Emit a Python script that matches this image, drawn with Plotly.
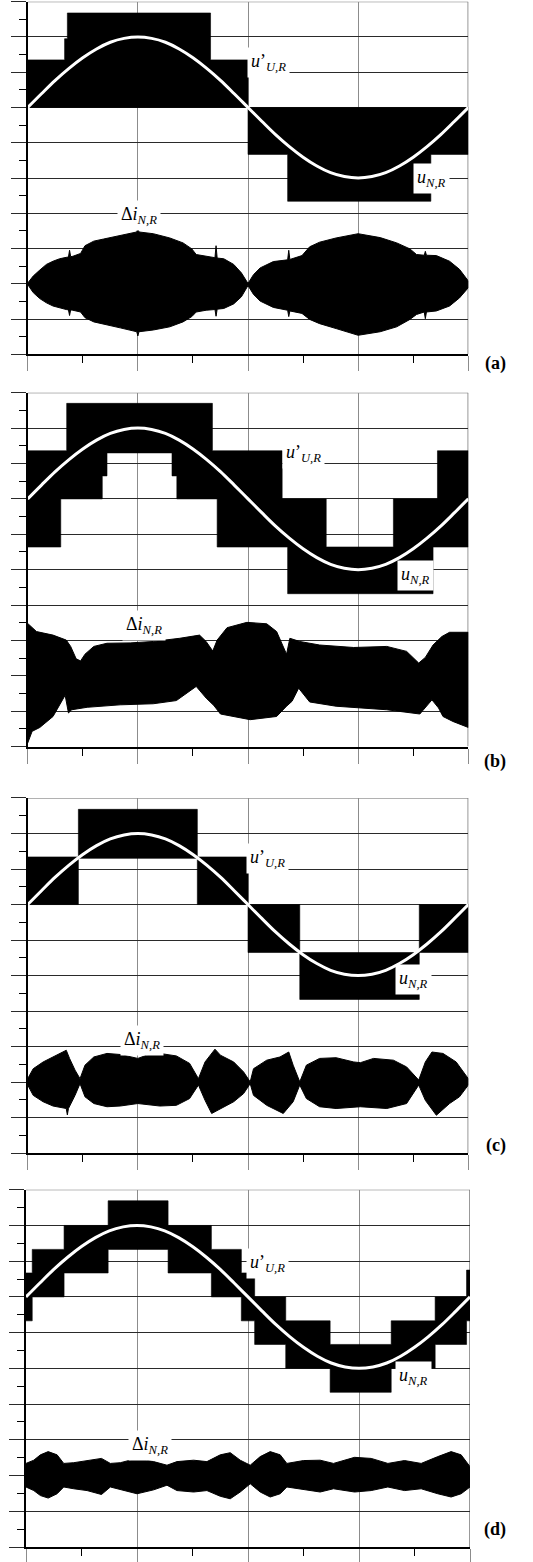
import plotly.graph_objects as go

FIG_W, FIG_H = 533, 1562

# ---------------- reference sine u'_U,R (same in all four panels) ----------------
sine_x = [0.0, 0.125, 0.25, 0.375, 0.5, 0.625, 0.75, 0.875, 1.0, 1.125, 1.25, 1.375, 1.5,
          1.625, 1.75, 1.875, 2.0, 2.125, 2.25, 2.375, 2.5, 2.625, 2.75, 2.875, 3.0,
          3.125, 3.25, 3.375, 3.5, 3.625, 3.75, 3.875, 4.0]
sine_y = [7.0, 7.39, 7.77, 8.11, 8.41, 8.66, 8.85, 8.96, 9.0, 8.96, 8.85, 8.66, 8.41,
          8.11, 7.77, 7.39, 7.0, 6.61, 6.23, 5.89, 5.59, 5.34, 5.15, 5.04, 5.0,
          5.04, 5.15, 5.34, 5.59, 5.89, 6.23, 6.61, 7.0]

# ---------------- PWM voltage u_N,R : switching bands (start, end, low, high) ----------------
a_x0 = [0.0, 0.335, 0.36, 1.66, 2.0, 2.36, 3.66]
a_x1 = [0.335, 0.36, 1.66, 2.0, 2.36, 3.66, 4.0]
a_lo = [7.0, 7.0, 7.0, 7.0, 5.67, 4.34, 5.67]
a_hi = [8.35, 8.95, 9.68, 8.35, 7.0, 7.0, 7.0]

b_x0 = [0.0, 0.30, 0.354, 0.677, 0.72, 1.31, 1.354, 1.677, 1.72, 2.31, 2.36, 2.71, 3.32, 3.68, 3.72]
b_x1 = [0.30, 0.354, 0.677, 0.72, 1.31, 1.354, 1.677, 1.72, 2.31, 2.36, 2.71, 3.32, 3.68, 3.72, 4.0]
b_lo = [5.64, 7.0, 7.0, 7.65, 8.30, 7.65, 7.0, 7.0, 5.64, 5.64, 4.32, 4.32, 4.32, 5.64, 5.64]
b_hi = [8.36, 8.36, 9.70, 9.70, 9.70, 9.70, 9.70, 8.36, 8.36, 7.0, 7.0, 5.64, 7.0, 7.0, 8.36]

c_x0 = [0.0, 0.46, 1.54, 2.0, 2.47, 3.555]
c_x1 = [0.46, 1.54, 2.0, 2.47, 3.555, 4.0]
c_lo = [7.0, 8.30, 7.0, 5.65, 4.33, 5.65]
c_hi = [8.34, 9.68, 8.34, 7.0, 5.65, 7.0]

d_x0 = [0.0, 0.056, 0.343, 0.74, 1.28, 1.67, 1.94, 2.06, 2.34, 2.74, 3.29, 3.686, 3.969]
d_x1 = [0.056, 0.343, 0.74, 1.28, 1.67, 1.94, 2.06, 2.34, 2.74, 3.29, 3.686, 3.969, 4.0]
d_lo = [6.33, 7.0, 7.67, 8.33, 7.67, 7.0, 6.33, 5.67, 5.0, 4.33, 5.0, 5.67, 6.33]
d_hi = [7.67, 8.33, 9.0, 9.69, 9.0, 8.33, 7.67, 7.0, 6.33, 5.67, 6.33, 7.0, 7.75]

# ---------------- ripple current delta i_N,R : upper / lower envelopes ----------------
ra_x = [0, 0.05, 0.11, 0.17, 0.23, 0.29, 0.35, 0.37, 0.38, 0.39, 0.41, 0.48, 0.52, 0.60, 0.69,
        0.84, 0.99, 1.0, 1.01, 1.14, 1.29, 1.41, 1.49, 1.53, 1.62, 1.70, 1.71, 1.72, 1.78, 1.87,
        1.94, 2.0, 2.05, 2.11, 2.23, 2.36, 2.37, 2.38, 2.49, 2.56, 2.65, 2.80, 3.0, 3.20, 3.35,
        3.47, 3.53, 3.60, 3.61, 3.62, 3.71, 3.83, 3.92, 4.0]
ra_up = [2.02, 2.22, 2.39, 2.55, 2.64, 2.71, 2.75, 2.76, 2.95, 2.77, 2.78, 2.86, 3.08, 3.21, 3.27,
         3.37, 3.47, 3.58, 3.47, 3.42, 3.30, 3.16, 2.99, 2.83, 2.78, 2.74, 3.08, 2.73, 2.71, 2.55,
         2.31, 2.01, 2.26, 2.45, 2.63, 2.68, 2.95, 2.69, 2.80, 3.05, 3.18, 3.30, 3.42, 3.31, 3.16,
         2.99, 2.83, 2.81, 2.92, 2.81, 2.80, 2.64, 2.41, 2.08]
ra_lo = [1.98, 1.75, 1.58, 1.46, 1.37, 1.32, 1.27, 1.26, 1.10, 1.26, 1.25, 1.20, 1.04, 0.92, 0.85,
         0.75, 0.64, 0.52, 0.64, 0.69, 0.78, 0.92, 1.07, 1.20, 1.25, 1.27, 1.08, 1.28, 1.30, 1.43,
         1.63, 1.95, 1.70, 1.51, 1.33, 1.25, 1.07, 1.23, 1.16, 0.99, 0.87, 0.73, 0.54, 0.64, 0.78,
         0.99, 1.13, 1.20, 1.01, 1.20, 1.23, 1.37, 1.60, 1.89]

rb_xu = [0.0, 0.08, 0.23, 0.35, 0.39, 0.44, 0.48, 0.52, 0.60, 0.72, 0.93, 1.14, 1.38, 1.56, 1.62,
         1.68, 1.72, 1.81, 1.99, 2.17, 2.26, 2.32, 2.35, 2.38, 2.47, 2.65, 2.96, 3.26, 3.44, 3.55,
         3.61, 3.68, 3.76, 3.83, 4.0]
rb_up = [3.48, 3.25, 3.15, 3.01, 2.83, 2.48, 2.42, 2.61, 2.83, 2.92, 2.93, 2.97, 3.06, 3.15, 2.97,
         2.70, 3.01, 3.36, 3.51, 3.47, 3.25, 2.85, 2.61, 3.06, 2.97, 2.87, 2.80, 2.83, 2.69, 2.36,
         2.52, 2.87, 3.11, 3.23, 3.23]
rb_xl = [0.0, 0.04, 0.11, 0.23, 0.34, 0.37, 0.40, 0.54, 0.84, 1.14, 1.35, 1.53, 1.62, 1.69, 1.75,
         2.02, 2.26, 2.35, 2.40, 2.46, 2.56, 2.80, 3.26, 3.56, 3.67, 3.73, 3.77, 3.86, 4.0]
rb_lo = [0.10, 0.43, 0.54, 0.85, 1.45, 0.95, 1.04, 1.11, 1.18, 1.21, 1.30, 1.70, 1.37, 1.16, 0.92,
         0.76, 0.85, 1.14, 1.28, 1.65, 1.26, 1.14, 1.04, 0.92, 1.32, 1.09, 0.85, 0.71, 0.54]

rc_xu = [0.0, 0.05, 0.14, 0.23, 0.32, 0.35, 0.38, 0.43, 0.475, 0.52, 0.60, 0.72, 0.84, 0.96, 1.0,
         1.08, 1.20, 1.35, 1.47, 1.55, 1.61, 1.70, 1.75, 1.87, 1.96, 2.02, 2.05, 2.17, 2.29, 2.37,
         2.41, 2.47, 2.53, 2.65, 2.80, 2.96, 3.02, 3.14, 3.32, 3.44, 3.55, 3.61, 3.67, 3.77, 3.89, 4.0]
rc_up = [2.10, 2.38, 2.57, 2.71, 2.84, 2.90, 2.67, 2.34, 2.10, 2.48, 2.71, 2.81, 2.78, 2.69, 2.67,
         2.76, 2.81, 2.74, 2.53, 2.10, 2.57, 2.93, 2.76, 2.57, 2.29, 2.01, 2.38, 2.62, 2.71, 2.85,
         2.48, 2.01, 2.48, 2.67, 2.69, 2.57, 2.55, 2.67, 2.62, 2.43, 2.06, 2.57, 2.85, 2.81, 2.57, 2.10]
rc_xl = [0.0, 0.05, 0.14, 0.23, 0.35, 0.36, 0.37, 0.43, 0.475, 0.52, 0.60, 0.72, 0.84, 1.0, 1.20,
         1.35, 1.47, 1.55, 1.61, 1.67, 1.75, 1.87, 1.96, 2.02, 2.05, 2.17, 2.32, 2.41, 2.47, 2.53,
         2.65, 2.80, 3.02, 3.26, 3.44, 3.55, 3.61, 3.71, 3.83, 3.92, 4.0]
rc_lo = [1.92, 1.63, 1.45, 1.33, 1.26, 1.08, 1.26, 1.63, 1.96, 1.59, 1.40, 1.31, 1.33, 1.40, 1.33,
         1.35, 1.54, 1.92, 1.49, 1.12, 1.26, 1.45, 1.68, 1.96, 1.63, 1.35, 1.12, 1.45, 1.92, 1.54,
         1.31, 1.26, 1.31, 1.26, 1.40, 1.92, 1.49, 1.07, 1.40, 1.59, 1.92]

rd_x = [0.0, 0.07, 0.13, 0.20, 0.28, 0.34, 0.43, 0.55, 0.68, 0.76, 0.85, 1.0, 1.15, 1.27, 1.36,
        1.51, 1.63, 1.75, 1.84, 1.93, 2.02, 2.11, 2.20, 2.29, 2.35, 2.50, 2.65, 2.77, 2.96, 3.11,
        3.26, 3.41, 3.56, 3.71, 3.83, 3.92, 4.0]
rd_up = [2.34, 2.43, 2.58, 2.67, 2.58, 2.34, 2.36, 2.42, 2.48, 2.34, 2.36, 2.48, 2.39, 2.29, 2.39,
         2.43, 2.39, 2.58, 2.64, 2.43, 2.29, 2.53, 2.67, 2.58, 2.34, 2.42, 2.43, 2.34, 2.51, 2.48,
         2.34, 2.42, 2.34, 2.53, 2.67, 2.58, 2.25]
rd_lo = [1.68, 1.58, 1.44, 1.37, 1.49, 1.68, 1.63, 1.58, 1.47, 1.68, 1.60, 1.49, 1.60, 1.73, 1.58,
         1.54, 1.58, 1.42, 1.35, 1.54, 1.77, 1.54, 1.40, 1.49, 1.68, 1.60, 1.54, 1.63, 1.54, 1.58,
         1.68, 1.58, 1.63, 1.49, 1.40, 1.49, 1.68]

# ---------------- labels ----------------
lbl_texts = ["<i>u</i>’<sub><i>U,R</i></sub>", "<i>u</i><sub><i>N,R</i></sub>",
             "Δ<i>i</i><sub><i>N,R</i></sub>"]
lbl_pos = {
    'a': [(2.19, 8.27), (3.67, 4.98), (1.01, 3.93)],
    'b': [(2.50, 8.29), (3.52, 4.83), (1.06, 3.43)],
    'c': [(2.18, 8.30), (3.50, 4.88), (1.04, 3.17)],
    'd': [(2.18, 7.93), (3.49, 4.78), (1.12, 2.85)],
}
panel_names = ['(a)', '(b)', '(c)', '(d)']

# ---------------- layout geometry (pixels) ----------------
px_x = {'a': (27.7, 468.3), 'b': (27.7, 468.3), 'c': (27.7, 468.3), 'd': (26.0, 470.0)}
px_y = {'a': (1.7, 355.0), 'b': (393.5, 748.0), 'c': (799.5, 1155.5), 'd': (1192.0, 1550.0)}
name_y_px = {'a': 352, 'b': 763, 'c': 1160, 'd': 1545}

panels = [
    ('a', (a_x0, a_x1, a_lo, a_hi), (ra_x, ra_up, ra_x, ra_lo)),
    ('b', (b_x0, b_x1, b_lo, b_hi), (rb_xu, rb_up, rb_xl, rb_lo)),
    ('c', (c_x0, c_x1, c_lo, c_hi), (rc_xu, rc_up, rc_xl, rc_lo)),
    ('d', (d_x0, d_x1, d_lo, d_hi), (rd_x, rd_up, rd_x, rd_lo)),
]

fig = go.Figure()
SERIF = "Liberation Serif, Times New Roman, serif"

for i, (key, blocks, ripple) in enumerate(panels, start=1):
    xa = 'x' if i == 1 else f'x{i}'
    ya = 'y' if i == 1 else f'y{i}'
    x0s, x1s, los, his = blocks
    assert len(x0s) == len(x1s) == len(los) == len(his)
    # one closed outline of the switching band: top edge left->right, bottom edge right->left
    px, py = [], []
    for s, e, h in zip(x0s, x1s, his):
        px += [s, e]
        py += [h, h]
    for s, e, l in reversed(list(zip(x0s, x1s, los))):
        px += [e, s]
        py += [l, l]
    fig.add_trace(go.Scatter(x=px, y=py, mode='lines', fill='toself', fillcolor='black',
                             line=dict(color='black', width=0.6),
                             xaxis=xa, yaxis=ya, hoverinfo='skip', showlegend=False))
    xu, yu, xl, yl = ripple
    assert len(xu) == len(yu) and len(xl) == len(yl)
    fig.add_trace(go.Scatter(x=list(xu) + list(xl)[::-1], y=list(yu) + list(yl)[::-1],
                             mode='lines', fill='toself', fillcolor='black',
                             line=dict(color='black', width=1),
                             xaxis=xa, yaxis=ya, hoverinfo='skip', showlegend=False))
    fig.add_trace(go.Scatter(x=sine_x, y=sine_y, mode='lines',
                             line=dict(color='white', width=3, shape='spline'),
                             xaxis=xa, yaxis=ya, hoverinfo='skip', showlegend=False))

    l, r = px_x[key]
    t, b = px_y[key]
    xdom = [l / FIG_W, r / FIG_W]
    ydom = [1 - b / FIG_H, 1 - t / FIG_H]
    xname = 'xaxis' if i == 1 else f'xaxis{i}'
    yname = 'yaxis' if i == 1 else f'yaxis{i}'
    fig.update_layout({
        xname: dict(domain=xdom, anchor=ya, range=[0, 4], showgrid=True, gridcolor='#8c8c8c',
                    gridwidth=1, tick0=0, dtick=1, ticks='outside', ticklen=15,
                    tickcolor='#8c8c8c', tickwidth=1, showticklabels=False, showline=True,
                    linecolor='black', linewidth=2, zeroline=False, fixedrange=True,
                    minor=dict(ticks='outside', ticklen=7, tickcolor='black', tickwidth=1,
                               tick0=0, dtick=0.5, showgrid=False)),
        yname: dict(domain=ydom, anchor=xa, range=[0, 10], showgrid=True, gridcolor='#2a2a2a',
                    gridwidth=1, tick0=0, dtick=1, ticks='outside', ticklen=15,
                    tickcolor='#2a2a2a', tickwidth=1, showticklabels=False, showline=True,
                    linecolor='black', linewidth=2, zeroline=False, fixedrange=True,
                    minor=dict(ticks='outside', ticklen=7, tickcolor='black', tickwidth=1,
                               tick0=0, dtick=0.5, showgrid=False)),
    })
    # top and right frame lines
    fig.add_shape(type='line', xref=xa, yref=ya, x0=0, x1=4, y0=10, y1=10,
                  line=dict(color='#555555', width=1), layer='below')
    fig.add_shape(type='line', xref=xa, yref=ya, x0=4, x1=4, y0=0, y1=10,
                  line=dict(color='#777777', width=1.5), layer='below')

    for txt, (lx, ly) in zip(lbl_texts, lbl_pos[key]):
        fig.add_annotation(x=lx, y=ly, xref=xa, yref=ya, text=txt, showarrow=False,
                           bgcolor='white', borderpad=3,
                           font=dict(family=SERIF, size=18, color='black'))
    fig.add_annotation(x=508 / FIG_W, y=1 - name_y_px[key] / FIG_H, xref='paper', yref='paper',
                       text='<b>' + panel_names[i - 1] + '</b>', showarrow=False,
                       font=dict(family=SERIF, size=18, color='black'))

fig.update_layout(width=FIG_W, height=FIG_H, margin=dict(l=0, r=0, t=0, b=0, pad=0),
                  paper_bgcolor='white', plot_bgcolor='white', showlegend=False)

fig.write_html("out.html", config={'displayModeBar': False},
               post_script="document.body.style.margin='0px';document.body.style.overflow='hidden';")
